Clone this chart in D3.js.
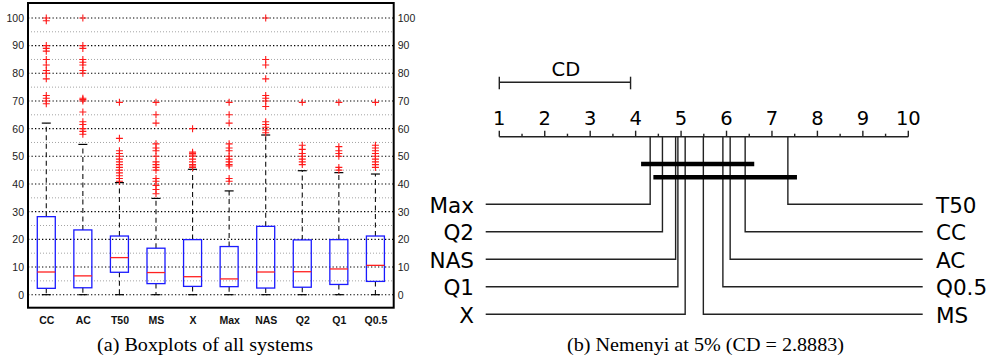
<!DOCTYPE html>
<html>
<head>
<meta charset="utf-8">
<script src="https://cdn.jsdelivr.net/npm/d3@7/dist/d3.min.js"></script>
<style>
  html, body { margin: 0; padding: 0; background: #fff; }
  svg { display: block; }
</style>
</head>
<body>
<svg id="chart" width="990" height="361"></svg>
<script>
// ---------- Data: (a) boxplots ----------
const categories = ["CC", "AC", "T50", "MS", "X", "Max", "NAS", "Q2", "Q1", "Q0.5"];
const boxQ1      = [2.3, 2.5, 8.1, 4.0, 3.0, 2.9, 2.4, 2.7, 3.7, 4.8];
const boxMedian  = [8.2, 6.8, 13.4, 8.0, 6.5, 5.7, 8.2, 8.3, 9.3, 10.6];
const boxQ3      = [28.2, 23.4, 21.2, 16.8, 19.9, 17.4, 24.7, 19.8, 19.9, 21.2];
const whiskerLow  = [0, 0, 0, 0, 0, 0, 0, 0, 0, 0];
const whiskerHigh = [62, 54.3, 40.5, 34.8, 45.3, 37.5, 57.7, 44.8, 44.1, 43.6];
const outliers = [
  [100, 99, 90, 89, 88, 85, 83, 81, 80, 78, 72, 71, 70, 69],
  [100, 90, 89, 85, 84, 83, 81, 80, 71, 70.5, 70, 66, 62.5, 61.5, 60, 59, 58],
  [69.5, 56.5, 52, 51, 50, 49, 48, 47, 46, 45, 44, 43, 42, 41],
  [69.5, 65, 62, 54.5, 53, 52, 50, 48, 47, 46, 45, 42, 41, 39.5, 38, 36.5],
  [60, 51.5, 51, 50.5, 50, 49, 48, 47, 46.5, 46],
  [69.5, 65, 62, 54.5, 53, 52, 50, 49, 48, 47, 46.5, 42, 41],
  [100, 85, 83, 78, 72, 71, 70, 68, 62.5, 61.5, 60.5, 59.5, 58.5],
  [69.5, 54, 52.5, 51, 50, 49, 48, 47],
  [69.5, 53.5, 52, 51, 50, 46, 45],
  [69.5, 54, 53, 52, 51, 50, 49, 48, 47, 46]
];
const yMajorTicks = [0, 10, 20, 30, 40, 50, 60, 70, 80, 90, 100];
const yMinorTicks = [5, 15, 25, 35, 45, 55, 65, 75, 85, 95];

// ---------- Data: (b) Nemenyi CD diagram ----------
const rankNames = ["Max", "Q2", "NAS", "Q1", "X", "MS", "Q0.5", "AC", "CC", "T50"];
const avgRanks  = [4.32, 4.59, 4.88, 4.93, 5.09, 5.49, 5.92, 6.08, 6.41, 7.35];
const cliques   = [[0, 8], [1, 9]];   // index ranges of non-significant groups
const cdValue   = 2.8883;
const rankTicks = [1, 2, 3, 4, 5, 6, 7, 8, 9, 10];

const captionA = "(a) Boxplots of all systems";
const captionB = "(b) Nemenyi at 5% (CD = 2.8883)";

const svg = d3.select("#chart");

// ================= Panel (a) =================
const fL = 28, fR = 393.7, fT = 3, fB = 307.7;
const x = d3.scaleLinear().domain([0.5, 10.5]).range([fL, fR]);
const y = d3.scaleLinear().domain([-4.7, 105.4]).range([fB, fT]);

const gA = svg.append("g");

// minor grid
gA.selectAll("line.minor").data(yMinorTicks).enter().append("line")
  .attr("x1", fL).attr("x2", fR)
  .attr("y1", d => y(d)).attr("y2", d => y(d))
  .attr("stroke", "#9a9a9a").attr("stroke-width", 0.9)
  .attr("stroke-dasharray", "1,2");
// major grid
gA.selectAll("line.major").data(yMajorTicks).enter().append("line")
  .attr("x1", fL).attr("x2", fR)
  .attr("y1", d => y(d)).attr("y2", d => y(d))
  .attr("stroke", "#000").attr("stroke-width", 1.1)
  .attr("stroke-dasharray", "1.3,2.2");

// axes (labels on both sides)
const leftAxis = d3.axisLeft(y).tickValues(yMajorTicks).tickSize(0).tickPadding(4);
const rightAxis = d3.axisRight(y).tickValues(yMajorTicks).tickSize(0).tickPadding(4);
const la = gA.append("g").attr("transform", `translate(${fL},0)`).call(leftAxis);
const ra = gA.append("g").attr("transform", `translate(${fR},0)`).call(rightAxis);
[la, ra].forEach(a => {
  a.select(".domain").remove();
  a.selectAll("text").attr("font-family", "Liberation Sans, Arial, sans-serif")
    .attr("font-size", 10.5).attr("fill", "#222");
});

const bottomAxis = d3.axisBottom(x).tickValues(d3.range(1, 11))
  .tickFormat(i => categories[i - 1]).tickSize(0).tickPadding(9);
const ba = gA.append("g").attr("transform", `translate(0,${fB})`).call(bottomAxis);
ba.select(".domain").remove();
ba.selectAll("text").attr("font-family", "Liberation Sans, Arial, sans-serif")
  .attr("font-size", 10.5).attr("font-weight", "bold").attr("fill", "#111");

// boxes
const boxW = 18 / (x(2) - x(1));
const capW = 9 / (x(2) - x(1));
const boxes = categories.map((c, i) => ({
  i: i + 1, q1: boxQ1[i], med: boxMedian[i], q3: boxQ3[i],
  lo: whiskerLow[i], hi: whiskerHigh[i], out: outliers[i]
}));

const bg = gA.selectAll("g.box").data(boxes).enter().append("g");
// whiskers (dashed)
bg.append("line").attr("x1", d => x(d.i)).attr("x2", d => x(d.i))
  .attr("y1", d => y(d.q3)).attr("y2", d => y(d.hi))
  .attr("stroke", "#111").attr("stroke-width", 1.1).attr("stroke-dasharray", "5,3.5");
bg.append("line").attr("x1", d => x(d.i)).attr("x2", d => x(d.i))
  .attr("y1", d => y(d.q1)).attr("y2", d => y(d.lo))
  .attr("stroke", "#111").attr("stroke-width", 1.1).attr("stroke-dasharray", "5,3.5");
// caps
bg.append("line").attr("x1", d => x(d.i - capW / 2)).attr("x2", d => x(d.i + capW / 2))
  .attr("y1", d => y(d.hi)).attr("y2", d => y(d.hi))
  .attr("stroke", "#000").attr("stroke-width", 1.2);
bg.append("line").attr("x1", d => x(d.i - capW / 2)).attr("x2", d => x(d.i + capW / 2))
  .attr("y1", d => y(d.lo)).attr("y2", d => y(d.lo))
  .attr("stroke", "#000").attr("stroke-width", 1.2);
// box
bg.append("rect").attr("x", d => x(d.i - boxW / 2)).attr("width", x(1 + boxW) - x(1))
  .attr("y", d => y(d.q3)).attr("height", d => y(d.q1) - y(d.q3))
  .attr("fill", "none").attr("stroke", "#1a1aff").attr("stroke-width", 1.3);
// median
bg.append("line").attr("x1", d => x(d.i - boxW / 2)).attr("x2", d => x(d.i + boxW / 2))
  .attr("y1", d => y(d.med)).attr("y2", d => y(d.med))
  .attr("stroke", "#ff2020").attr("stroke-width", 1.3);
// outliers
bg.each(function(d) {
  d3.select(this).selectAll("path.out").data(d.out).enter().append("path")
    .attr("d", v => {
      const cx = x(d.i), cy = y(v), h = 3.5;
      return `M${cx - h},${cy}H${cx + h}M${cx},${cy - h}V${cy + h}`;
    })
    .attr("stroke", "#ff1a1a").attr("stroke-width", 1.1).attr("fill", "none");
});

// frame
gA.append("rect").attr("x", fL).attr("y", fT).attr("width", fR - fL).attr("height", fB - fT)
  .attr("fill", "none").attr("stroke", "#000").attr("stroke-width", 2);

// caption (a)
svg.append("text").attr("x", 97).attr("y", 351)
  .attr("text-anchor", "start")
  .attr("font-family", "Liberation Serif, Times New Roman, serif")
  .attr("font-size", 18).attr("fill", "#000")
  .attr("textLength", 216).attr("lengthAdjust", "spacingAndGlyphs")
  .text(captionA);

// ================= Panel (b) =================
const r = d3.scaleLinear().domain([1, 10]).range([499.3, 908.3]);
const axisY = 136.7;
const gB = svg.append("g");
const lineCol = "#222";
const fontCD = "DejaVu Sans, Verdana, sans-serif";

// axis line
gB.append("line").attr("x1", r(1)).attr("x2", r(10)).attr("y1", axisY).attr("y2", axisY)
  .attr("stroke", lineCol).attr("stroke-width", 1.4);
// major ticks
gB.selectAll("line.mt").data(rankTicks).enter().append("line")
  .attr("x1", d => r(d)).attr("x2", d => r(d))
  .attr("y1", axisY).attr("y2", axisY - 6)
  .attr("stroke", lineCol).attr("stroke-width", 1.4);
// minor ticks
gB.selectAll("line.mn").data(rankTicks.slice(0, -1).map(d => d + 0.5)).enter().append("line")
  .attr("x1", d => r(d)).attr("x2", d => r(d))
  .attr("y1", axisY).attr("y2", axisY - 3)
  .attr("stroke", lineCol).attr("stroke-width", 1.4);
// tick labels
gB.selectAll("text.tl").data(rankTicks).enter().append("text")
  .attr("x", d => r(d)).attr("y", 125).attr("text-anchor", "middle")
  .attr("font-family", fontCD).attr("font-size", 19.5).attr("fill", "#000")
  .text(d => d);

// CD bar
const cdY = 82.3;
gB.append("line").attr("x1", r(1)).attr("x2", r(1 + cdValue)).attr("y1", cdY).attr("y2", cdY)
  .attr("stroke", lineCol).attr("stroke-width", 1.4);
[1, 1 + cdValue].forEach(v => {
  gB.append("line").attr("x1", r(v)).attr("x2", r(v)).attr("y1", cdY - 5.6).attr("y2", cdY + 7)
    .attr("stroke", lineCol).attr("stroke-width", 1.4);
});
gB.append("text").attr("x", (r(1) + r(1 + cdValue)) / 2 + 1).attr("y", 75.7)
  .attr("text-anchor", "middle").attr("font-family", fontCD).attr("font-size", 19.5)
  .attr("fill", "#000").text("CD");

// rows
const row = d3.scaleLinear().domain([0, 4]).range([204.3, 314.3]);
const leftEnd = 485.7, rightEnd = 922.7;
const nHalf = Math.ceil(rankNames.length / 2);
rankNames.forEach((name, i) => {
  const rx = r(avgRanks[i]);
  let ry, xEnd, tx, anchor;
  if (i < nHalf) {
    ry = row(i); xEnd = leftEnd; tx = 474; anchor = "end";
  } else {
    ry = row(rankNames.length - 1 - i); xEnd = rightEnd; tx = 936; anchor = "start";
  }
  gB.append("path")
    .attr("d", `M${rx},${axisY}V${ry}H${xEnd}`)
    .attr("fill", "none").attr("stroke", lineCol).attr("stroke-width", 1.4);
  gB.append("text").attr("x", tx).attr("y", ry + 8.2).attr("text-anchor", anchor)
    .attr("font-family", fontCD).attr("font-size", 21.5).attr("fill", "#000")
    .text(name);
});

// clique bars
const cliqueY = [164, 177.3];
cliques.forEach((c, k) => {
  gB.append("line")
    .attr("x1", r(avgRanks[c[0]] - 0.2)).attr("x2", r(avgRanks[c[1]] + 0.2))
    .attr("y1", cliqueY[k]).attr("y2", cliqueY[k])
    .attr("stroke", "#000").attr("stroke-width", 4.5);
});

// caption (b)
svg.append("text").attr("x", 567).attr("y", 351)
  .attr("text-anchor", "start")
  .attr("font-family", "Liberation Serif, Times New Roman, serif")
  .attr("font-size", 18).attr("fill", "#000")
  .attr("textLength", 277).attr("lengthAdjust", "spacingAndGlyphs")
  .text(captionB);
</script>
</body>
</html>
